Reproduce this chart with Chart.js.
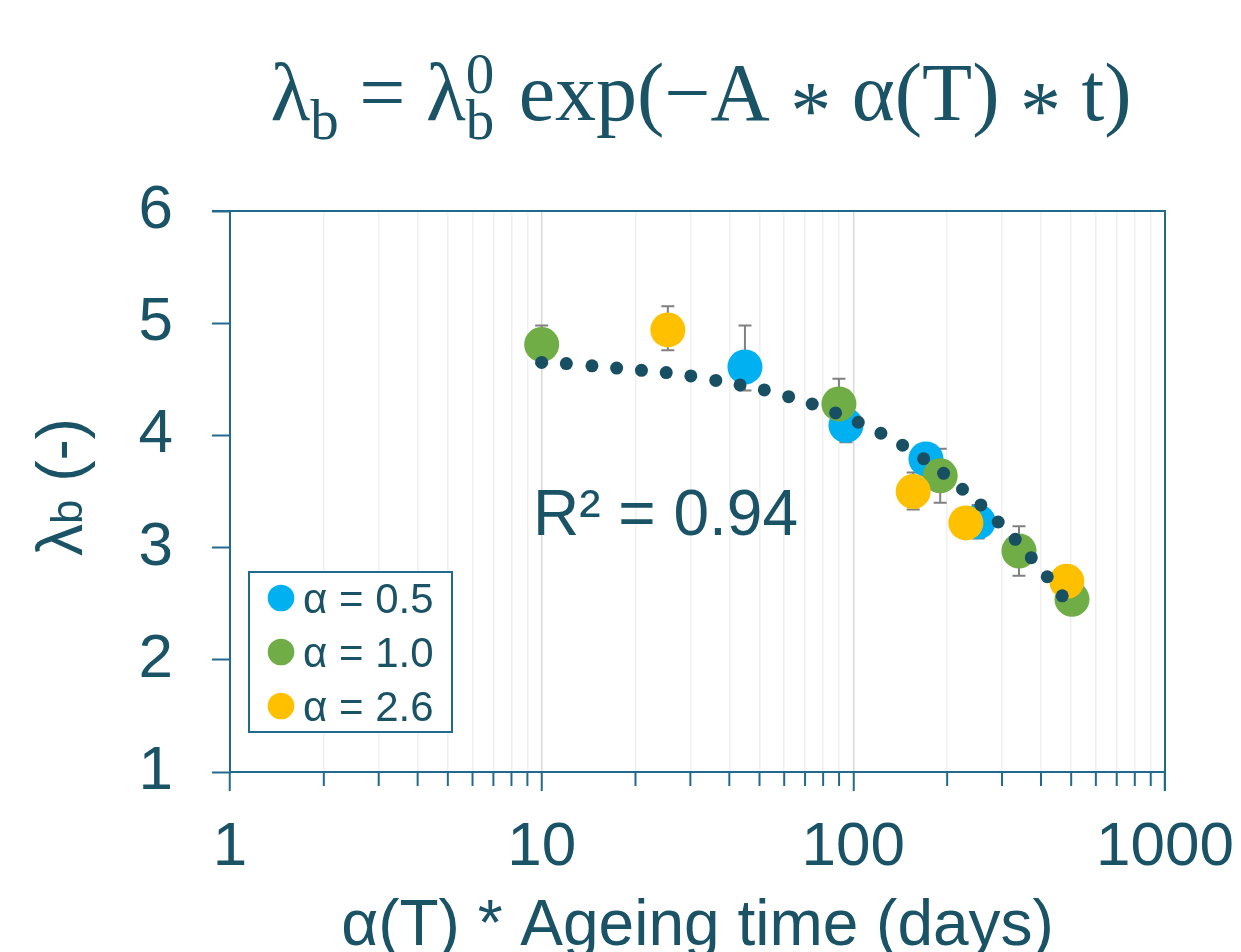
<!DOCTYPE html>
<html>
<head>
<meta charset="utf-8">
<script src="https://cdn.jsdelivr.net/npm/chart.js@4.4.1/dist/chart.umd.min.js"></script>
<style>
  html, body { margin: 0; padding: 0; background: #fff; }
  #caixa { width: 1241px; height: 952px; }
</style>
</head>
<body>
<div id="caixa"><canvas id="grafico" width="1241" height="952"></canvas></div>
<script>
// valores
const nomesSeries = ["α = 0.5", "α = 1.0", "α = 2.6"];

const xAlfa05 = [44.9, 94.7, 171, 251.6];
const yAlfa05 = [4.61, 4.09, 3.79, 3.23];
const errCimaAlfa05 = [0.37, 0.15, 0, 0.15];
const errBaixoAlfa05 = [0.21, 0.15, 0, 0.15];

const xAlfa10 = [10, 89.9, 190, 340, 503];
const yAlfa10 = [4.81, 4.28, 3.64, 2.97, 2.54];
const errCimaAlfa10 = [0.17, 0.225, 0.24, 0.22, 0];
const errBaixoAlfa10 = [0.17, 0.225, 0.24, 0.22, 0];

const xAlfa26 = [25.4, 155.6, 229.7, 484];
const yAlfa26 = [4.94, 3.50, 3.22, 2.70];
const errCimaAlfa26 = [0.21, 0.17, 0, 0];
const errBaixoAlfa26 = [0.18, 0.16, 0, 0];

// pontos da linha de tendencia (pontilhada)
const xTendencia = [10, 12.0, 14.5, 17.4, 20.9, 25.1, 30.1, 36.2, 43.3, 51.8, 62, 73.8, 87.7, 103.7, 122.6, 143.9, 168.1, 194.8, 224, 256.6, 291.6, 330.7, 372.3, 419, 468];
const yTendencia = [4.65, 4.64, 4.62, 4.60, 4.58, 4.56, 4.53, 4.49, 4.45, 4.405, 4.345, 4.28, 4.20, 4.117, 4.019, 3.912, 3.792, 3.662, 3.52, 3.38, 3.228, 3.074, 2.91, 2.74, 2.57];

const ticksMaioresX = [1, 10, 100, 1000];
const ticksY = [1, 2, 3, 4, 5, 6];
const textoR2 = "R² = 0.94";
const tituloX = "α(T) * Ageing time (days)";

const corTexto = "#1A5266";
const corEixo = "#226A8C";
const corTendencia = "#184F63";
const fonteSans = '"Liberation Sans", Arial, sans-serif';
const fonteSerif = '"Liberation Serif", "Times New Roman", serif';

// todos os ticks do eixo log (1..9 em cada decada)
let todosTicksX = [];
for (let d = 0; d < ticksMaioresX.length - 1; d++) {
    for (let k = 1; k < 10; k++) {
        todosTicksX.push(k * ticksMaioresX[d]);
    }
}
todosTicksX.push(ticksMaioresX[ticksMaioresX.length - 1]);

function montaPontos(xs, ys) {
    return xs.map((x, i) => ({ x: x, y: ys[i] }));
}

const series = [
    { x: xAlfa05, y: yAlfa05, cima: errCimaAlfa05, baixo: errBaixoAlfa05 },
    { x: xAlfa10, y: yAlfa10, cima: errCimaAlfa10, baixo: errBaixoAlfa10 },
    { x: xAlfa26, y: yAlfa26, cima: errCimaAlfa26, baixo: errBaixoAlfa26 }
];

const desenhos = {
    id: 'desenhos',
    beforeDatasetsDraw(chart) {
        // barras de erro, atras dos marcadores
        const ctx = chart.ctx;
        const sx = chart.scales.x, sy = chart.scales.y;
        ctx.save();
        ctx.strokeStyle = '#808080';
        ctx.lineWidth = 2;
        series.forEach(s => {
            s.x.forEach((xv, i) => {
                if (!s.cima[i] && !s.baixo[i]) return;
                const px = sx.getPixelForValue(xv);
                const topo = sy.getPixelForValue(s.y[i] + s.cima[i]);
                const base = sy.getPixelForValue(s.y[i] - s.baixo[i]);
                ctx.beginPath();
                ctx.moveTo(px, topo); ctx.lineTo(px, base);
                ctx.moveTo(px - 6.5, topo); ctx.lineTo(px + 6.5, topo);
                ctx.moveTo(px - 6.5, base); ctx.lineTo(px + 6.5, base);
                ctx.stroke();
            });
        });
        ctx.restore();
    },
    afterDraw(chart) {
        const ctx = chart.ctx;
        const area = chart.chartArea;
        const sx = chart.scales.x;
        ctx.save();

        // borda da area do grafico (topo e direita)
        ctx.strokeStyle = corEixo;
        ctx.lineWidth = 2;
        ctx.beginPath();
        ctx.moveTo(area.left - 18, area.top);
        ctx.lineTo(area.right, area.top);
        ctx.lineTo(area.right, area.bottom + 19);
        ctx.stroke();

        // ticks menores do eixo x
        todosTicksX.forEach(v => {
            if (ticksMaioresX.includes(v)) return;
            const px = sx.getPixelForValue(v);
            ctx.beginPath();
            ctx.moveTo(px, area.bottom);
            ctx.lineTo(px, area.bottom + 14);
            ctx.stroke();
        });

        ctx.fillStyle = corTexto;
        ctx.textBaseline = 'alphabetic';

        // R²
        ctx.font = '64px ' + fonteSans;
        ctx.textAlign = 'left';
        ctx.fillText(textoR2, 533, 535);

        // titulo do eixo x
        ctx.textAlign = 'center';
        ctx.fillText(tituloX, (area.left + area.right) / 2, 945);

        // titulo do eixo y: λb (-)
        ctx.save();
        ctx.translate(82, 487);
        ctx.rotate(-Math.PI / 2);
        ctx.textAlign = 'left';
        const pecasY = [
            { t: 'λ', f: '64px ', dy: 0 },
            { t: 'b', f: '44px ', dy: 0 },
            { t: ' (-)', f: '64px ', dy: 0 }
        ];
        let larguraY = 0;
        pecasY.forEach(p => { ctx.font = p.f + fonteSans; p.w = ctx.measureText(p.t).width; larguraY += p.w; });
        let cx = -larguraY / 2;
        pecasY.forEach(p => { ctx.font = p.f + fonteSans; ctx.fillText(p.t, cx, p.dy); cx += p.w; });
        ctx.restore();

        // titulo principal (equacao)
        const tam = 82;
        const pecas = [
            { t: 'λ', s: 1, dy: 0 },
            { t: 'b', s: 0.7, dy: 19 },
            { t: ' = λ', s: 1, dy: 0 },
            { t: 'b', s: 0.7, dy: 19, sup: '0' },
            { t: ' exp(−A ', s: 1, dy: 0 },
            { t: '*', s: 1, dy: 18 },
            { t: ' α(T) ', s: 1, dy: 0 },
            { t: '*', s: 1, dy: 18 },
            { t: ' t)', s: 1, dy: 0 }
        ];
        let largura = 0;
        pecas.forEach(p => {
            ctx.font = Math.round(tam * p.s) + 'px ' + fonteSerif;
            p.w = ctx.measureText(p.t).width + (p.sup ? 4 : 0);
            largura += p.w;
        });
        let tx = 701 - largura / 2;
        ctx.textAlign = 'left';
        pecas.forEach(p => {
            ctx.font = Math.round(tam * p.s) + 'px ' + fonteSerif;
            ctx.fillText(p.t, tx, 120 + p.dy);
            if (p.sup) ctx.fillText(p.sup, tx, 93);
            tx += p.w;
        });

        // legenda
        const lx = 249, ly = 572, lw = 203, lh = 160;
        ctx.strokeStyle = corEixo;
        ctx.lineWidth = 2;
        ctx.fillStyle = '#ffffff';
        ctx.fillRect(lx, ly, lw, lh);
        ctx.strokeRect(lx, ly, lw, lh);
        const dsLegenda = chart.data.datasets.filter(d => d.naLegenda).sort((a, b) => a.posLegenda - b.posLegenda);
        dsLegenda.forEach((d, i) => {
            const cy = 598 + i * 54;
            ctx.fillStyle = d.backgroundColor;
            ctx.beginPath();
            ctx.arc(281, cy, 13.3, 0, Math.PI * 2);
            ctx.fill();
            ctx.fillStyle = corTexto;
            ctx.font = '42px ' + fonteSans;
            ctx.textAlign = 'left';
            ctx.fillText(d.label, 303, cy + 15);
        });

        ctx.restore();
    }
};

const ctx = document.getElementById('grafico').getContext('2d');
new Chart(ctx, {
    type: 'scatter',
    data: {
        datasets: [
            {
                label: 'Tendência',
                data: montaPontos(xTendencia, yTendencia),
                backgroundColor: corTendencia,
                pointRadius: 6.5,
                pointBorderWidth: 0,
                order: 0
            },
            {
                label: nomesSeries[2],
                data: montaPontos(xAlfa26, yAlfa26),
                backgroundColor: '#FFC000',
                pointRadius: 17.5,
                pointBorderWidth: 0,
                order: 1,
                naLegenda: true,
                posLegenda: 2
            },
            {
                label: nomesSeries[1],
                data: montaPontos(xAlfa10, yAlfa10),
                backgroundColor: '#70AD47',
                pointRadius: 17.5,
                pointBorderWidth: 0,
                order: 2,
                naLegenda: true,
                posLegenda: 1
            },
            {
                label: nomesSeries[0],
                data: montaPontos(xAlfa05, yAlfa05),
                backgroundColor: '#00B0F0',
                pointRadius: 17.5,
                pointBorderWidth: 0,
                order: 3,
                naLegenda: true,
                posLegenda: 0
            }
        ]
    },
    options: {
        responsive: false,
        animation: false,
        devicePixelRatio: 1,
        layout: { padding: { top: 211, right: 76, left: 0, bottom: 0 } },
        plugins: {
            legend: { display: false },
            tooltip: { enabled: false }
        },
        scales: {
            x: {
                type: 'logarithmic',
                min: 1,
                max: 1000,
                afterBuildTicks(s) {
                    s.ticks = todosTicksX.map(v => ({ value: v, major: ticksMaioresX.includes(v) }));
                },
                afterFit(s) {
                    s.height = 180;
                    s.paddingLeft = 0;
                    s.paddingRight = 0;
                },
                ticks: {
                    autoSkip: false,
                    maxRotation: 0,
                    minRotation: 0,
                    padding: 20,
                    color: corTexto,
                    font: { family: fonteSans, size: 62 },
                    callback: (v) => ticksMaioresX.includes(v) ? String(v) : ''
                },
                grid: {
                    lineWidth: 1.5,
                    tickLength: 19,
                    tickWidth: 2,
                    color: (c) => (c.tick && ticksMaioresX.includes(c.tick.value)) ? '#D9D9D9' : '#F0F0F0',
                    tickColor: (c) => (c.tick && ticksMaioresX.includes(c.tick.value)) ? corEixo : 'rgba(0,0,0,0)'
                },
                border: { color: corEixo, width: 2 }
            },
            y: {
                min: 1,
                max: 6,
                afterBuildTicks(s) {
                    s.ticks = ticksY.map(v => ({ value: v }));
                },
                afterFit(s) {
                    s.width = 230;
                    s.paddingTop = 0;
                    s.paddingBottom = 0;
                },
                ticks: {
                    padding: 39,
                    color: corTexto,
                    font: { family: fonteSans, size: 62 }
                },
                grid: {
                    drawOnChartArea: false,
                    tickLength: 18,
                    tickWidth: 2,
                    tickColor: corEixo
                },
                border: { color: corEixo, width: 2 }
            }
        }
    },
    plugins: [desenhos]
});
</script>
</body>
</html>
